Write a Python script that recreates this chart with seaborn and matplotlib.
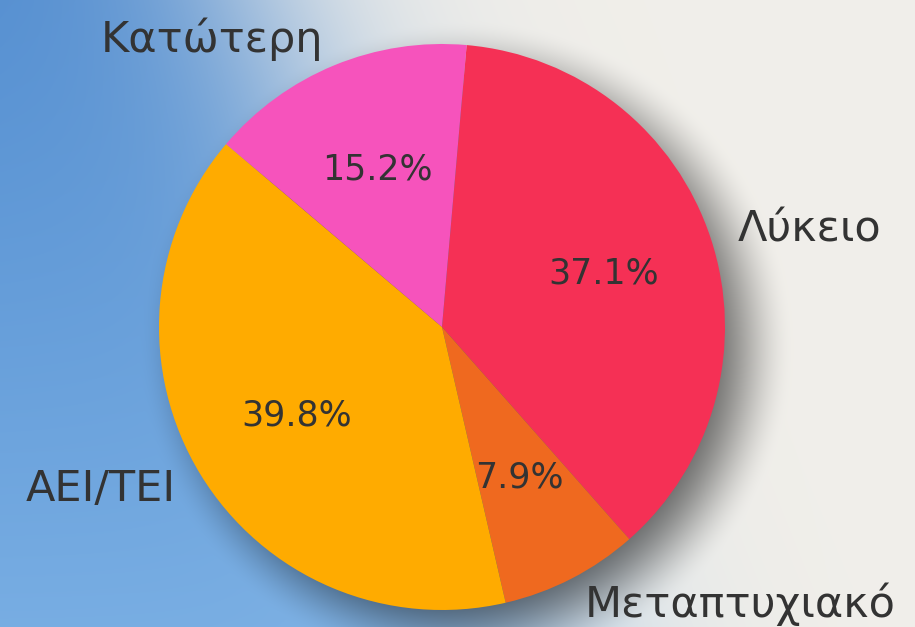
import matplotlib
matplotlib.use("Agg")
import matplotlib.pyplot as plt
import numpy as np
import seaborn as sns

# data
labels = ["Λύκειο", "Μεταπτυχιακό", "ΑΕΙ/ΤΕΙ", "Κατώτερη"]
shares = [37.1, 7.9, 39.8, 15.2]
slice_colors = ["#f53055", "#ef691f", "#ffab00", "#f653bc"]

W, H = 915, 627
CX, CY, R = 442, 327, 283


def background():
    # blue on the left fading diagonally to light grey, plus a soft drop shadow
    yy, xx = np.mgrid[0:H, 0:W].astype(float)
    blue_top = np.array([0.33, 0.56, 0.82])
    blue_bot = np.array([0.47, 0.68, 0.89])
    light = np.array([0.945, 0.937, 0.918])
    frac = (yy / H)[..., None]
    blue = blue_top * (1 - frac) + blue_bot * frac
    x0 = 250 + 0.45 * yy
    w = 1 / (1 + np.exp((xx - x0) / 70))
    img = blue * w[..., None] + light * (1 - w[..., None])
    # shadow
    d = np.hypot(xx - (CX + 24), yy - (CY + 20))
    s = np.clip((R + 45 - d) / 95, 0, 1)
    s = s * s * (3 - 2 * s)
    img = img * (1 - 0.55 * s[..., None])
    return np.clip(img, 0, 1)


def main():
    sns.set_style("white")
    plt.rcParams["font.family"] = ["DejaVu Sans"]

    fig = plt.figure(figsize=(W / 100, H / 100), dpi=100)
    bg = fig.add_axes([0, 0, 1, 1])
    bg.imshow(background(), aspect="auto", interpolation="bilinear")
    bg.axis("off")

    ax = fig.add_axes([(CX - R) / W, (H - CY - R) / H, 2 * R / W, 2 * R / H])
    ax.patch.set_alpha(0)
    wedges, texts, autotexts = ax.pie(
        shares,
        labels=labels,
        colors=sns.color_palette(slice_colors),
        autopct="%1.1f%%",
        startangle=85,
        counterclock=False,
        labeldistance=1.1,
        pctdistance=0.6,
        wedgeprops={"linewidth": 0},
        textprops={"color": "#333333"},
    )
    for t in texts:
        t.set_fontsize(31)
    for t in autotexts:
        t.set_fontsize(25)
    ax.set_xlim(-1, 1)
    ax.set_ylim(-1, 1)
    ax.axis("off")

    fig.savefig("out.png", dpi=100)
    plt.close(fig)


if __name__ == "__main__":
    main()
